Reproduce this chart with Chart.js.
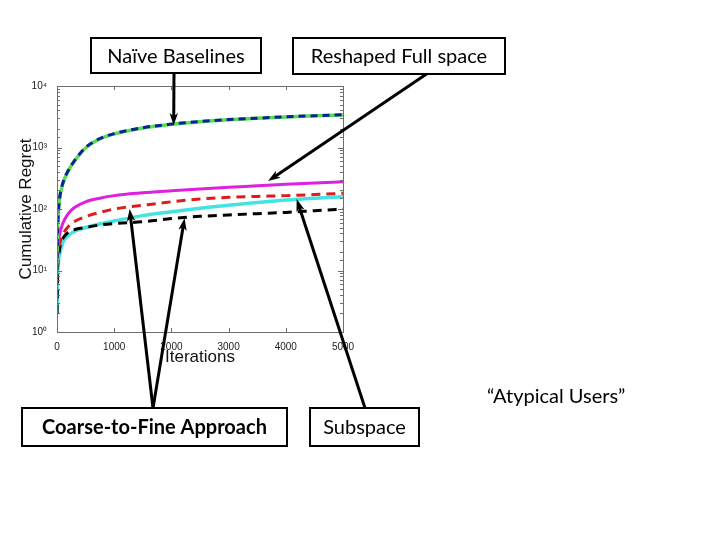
<!DOCTYPE html>
<html>
<head>
<meta charset="utf-8">
<script src="https://cdn.jsdelivr.net/npm/chart.js@4/dist/chart.umd.min.js"></script>
<style>
  body { margin: 0; background: #fff; }
  #wrap { width: 720px; height: 540px; }
</style>
</head>
<body>
<div id="wrap"><canvas id="regretChart" width="720" height="540"></canvas></div>
<script>
const iterations = [1, 10, 25, 50, 100, 200, 300, 500, 750, 1000, 1500, 2000, 2500, 3000, 3500, 4000, 4500, 5000];

// naive baselines (two, nearly on top of each other)
const naiveBlue  = [10, 40, 90, 160, 260, 430, 600, 1000, 1400, 1680, 2100, 2400, 2650, 2850, 3000, 3150, 3280, 3400];
const naiveGreen = [10, 38, 88, 155, 255, 420, 590, 980, 1380, 1660, 2080, 2380, 2630, 2830, 2990, 3140, 3270, 3380];
// reshaped full space
const reshapedFull = [12, 22, 30, 40, 58, 85, 105, 131, 150, 165, 183, 198, 212, 225, 238, 252, 264, 277];
// coarse-to-fine (red dashed, black dashed)
const coarseRed   = [14, 18, 22, 28, 38, 52, 62, 75, 88, 100, 115, 131, 145, 155, 160, 165, 172, 180];
const coarseBlack = [2, 10, 16, 24, 33, 42, 46, 50, 55, 58, 62, 70, 76, 80, 84, 88, 94, 100];
// subspace
const subspace = [2, 8, 14, 19, 28, 37, 43, 50, 57, 64, 78, 90, 103, 115, 127, 140, 150, 158];

const xTicks = [0, 1000, 2000, 3000, 4000, 5000];
const yDecades = [1, 10, 100, 1000, 10000];
const supers = { 0: '\u2070', 1: '\u00B9', 2: '\u00B2', 3: '\u00B3', 4: '\u2074' };

// annotation boxes on the slide (pixel layout)
const noteBoxes = [
  { text: 'Naïve Baselines', x: 91, y: 38, w: 170, h: 35, bold: false },
  { text: 'Reshaped Full space', x: 293, y: 38, w: 212, h: 36, bold: false },
  { text: 'Coarse-to-Fine Approach', x: 22, y: 408, w: 265, h: 38, bold: true },
  { text: 'Subspace', x: 310, y: 408, w: 109, h: 38, bold: false }
];
// arrows: tail in pixels, tip in data coordinates
const noteArrows = [
  { from: [174, 73], to: [2040, 2300] },
  { from: [428, 73], to: [3690, 285] },
  { from: [153, 408], to: [1270, 100] },
  { from: [153, 408], to: [2230, 71] },
  { from: [365, 408], to: [4190, 145] }
];

function pts(vals) {
  return iterations.map((it, i) => ({ x: it, y: vals[i] }));
}

function drawArrow(ctx, x1, y1, x2, y2) {
  let ang = Math.atan2(y2 - y1, x2 - x1);
  let len = 13, spread = 0.33;
  ctx.save();
  ctx.strokeStyle = '#000';
  ctx.fillStyle = '#000';
  ctx.lineWidth = 3;
  ctx.beginPath();
  ctx.moveTo(x1, y1);
  ctx.lineTo(x2 - Math.cos(ang) * 6, y2 - Math.sin(ang) * 6);
  ctx.stroke();
  ctx.beginPath();
  ctx.moveTo(x2, y2);
  ctx.lineTo(x2 - len * Math.cos(ang - spread), y2 - len * Math.sin(ang - spread));
  ctx.lineTo(x2 - len * 0.7 * Math.cos(ang), y2 - len * 0.7 * Math.sin(ang));
  ctx.lineTo(x2 - len * Math.cos(ang + spread), y2 - len * Math.sin(ang + spread));
  ctx.closePath();
  ctx.fill();
  ctx.restore();
}

const slidePlugin = {
  id: 'slideNotes',
  beforeDraw(chart) {
    let ctx = chart.ctx;
    ctx.save();
    ctx.fillStyle = '#fff';
    ctx.fillRect(0, 0, chart.width, chart.height);
    ctx.restore();
  },
  afterDraw(chart) {
    let ctx = chart.ctx;
    let a = chart.chartArea;
    let sx = chart.scales.x, sy = chart.scales.y;

    // MATLAB style frame with inward ticks
    ctx.save();
    ctx.strokeStyle = '#6e6e6e';
    ctx.lineWidth = 1;
    ctx.strokeRect(a.left + 0.5, a.top + 0.5, a.right - a.left, a.bottom - a.top);
    ctx.beginPath();
    sy.ticks.forEach(t => {
      let py = Math.round(sy.getPixelForValue(t.value)) + 0.5;
      let major = yDecades.includes(t.value);
      let l = major ? 5 : 3;
      ctx.moveTo(a.left, py); ctx.lineTo(a.left + l, py);
      ctx.moveTo(a.right, py); ctx.lineTo(a.right - l, py);
    });
    xTicks.forEach(v => {
      let px = Math.round(sx.getPixelForValue(v)) + 0.5;
      ctx.moveTo(px, a.bottom); ctx.lineTo(px, a.bottom - 4);
      ctx.moveTo(px, a.top); ctx.lineTo(px, a.top + 4);
    });
    ctx.stroke();
    ctx.restore();

    noteArrows.forEach(ar => {
      drawArrow(ctx, ar.from[0], ar.from[1], sx.getPixelForValue(ar.to[0]), sy.getPixelForValue(ar.to[1]));
    });

    ctx.save();
    noteBoxes.forEach(b => {
      ctx.fillStyle = '#fff';
      ctx.fillRect(b.x, b.y, b.w, b.h);
      ctx.strokeStyle = '#000';
      ctx.lineWidth = 2;
      ctx.strokeRect(b.x, b.y, b.w, b.h);
      ctx.fillStyle = '#000';
      ctx.font = (b.bold ? 'bold ' : '') + '20px Lato';
      ctx.textAlign = 'center';
      ctx.textBaseline = 'middle';
      ctx.fillText(b.text, b.x + b.w / 2, b.y + b.h / 2 + 1);
    });
    ctx.font = '20px Lato';
    ctx.textAlign = 'left';
    ctx.textBaseline = 'middle';
    ctx.fillText('\u201CAtypical Users\u201D', 487, 397);
    ctx.restore();
  }
};

let ctx = document.getElementById('regretChart').getContext('2d');
let regretChart = new Chart(ctx, {
  type: 'line',
  data: {
    datasets: [{
      label: 'Naive baseline A',
      data: pts(naiveBlue),
      borderColor: '#10209a',
      borderWidth: 3,
      borderDash: [7, 5],
      order: 1
    }, {
      label: 'Naive baseline B',
      data: pts(naiveGreen),
      borderColor: '#55dd55',
      borderWidth: 3.5,
      order: 2
    }, {
      label: 'Coarse-to-fine A',
      data: pts(coarseRed),
      borderColor: '#dd1c1c',
      borderWidth: 3,
      borderDash: [9, 6],
      order: 3
    }, {
      label: 'Coarse-to-fine B',
      data: pts(coarseBlack),
      borderColor: '#000000',
      borderWidth: 3,
      borderDash: [9, 6],
      order: 4
    }, {
      label: 'Reshaped full space',
      data: pts(reshapedFull),
      borderColor: '#e020e0',
      borderWidth: 3,
      order: 5
    }, {
      label: 'Subspace',
      data: pts(subspace),
      borderColor: '#44e2e2',
      borderWidth: 3.5,
      order: 6
    }]
  },
  options: {
    responsive: false,
    animation: false,
    cubicInterpolationMode: 'monotone',
    elements: { point: { radius: 0 } },
    layout: { padding: { left: 16, top: 86, right: 377, bottom: 172 } },
    plugins: {
      legend: { display: false },
      tooltip: { enabled: false }
    },
    scales: {
      x: {
        type: 'linear',
        min: 0,
        max: 5000,
        afterBuildTicks: s => { s.ticks = xTicks.map(v => ({ value: v })); },
        grid: { display: false },
        border: { display: false },
        ticks: {
          color: '#222',
          padding: 1,
          maxRotation: 0,
          font: { family: 'Liberation Sans', size: 10 },
          callback: v => String(v)
        },
        title: {
          display: true,
          text: 'Iterations',
          color: '#111',
          padding: { top: -2, bottom: 0 },
          font: { family: 'Liberation Sans', size: 17 }
        },
        afterFit: s => { s.height = 36; }
      },
      y: {
        type: 'logarithmic',
        min: 1,
        max: 10000,
        grid: { display: false },
        border: { display: false },
        ticks: {
          color: '#222',
          padding: 2,
          autoSkip: false,
          font: { family: 'Liberation Sans', size: 10 },
          callback: v => {
            let k = Math.round(Math.log10(v));
            return yDecades.includes(v) ? '10' + supers[k] : '';
          }
        },
        title: {
          display: true,
          text: 'Cumulative Regret',
          color: '#111',
          padding: { top: 0, bottom: 2 },
          font: { family: 'Liberation Sans', size: 17 }
        },
        afterFit: s => { s.width = 41; }
      }
    }
  },
  plugins: [slidePlugin]
});
</script>
</body>
</html>
